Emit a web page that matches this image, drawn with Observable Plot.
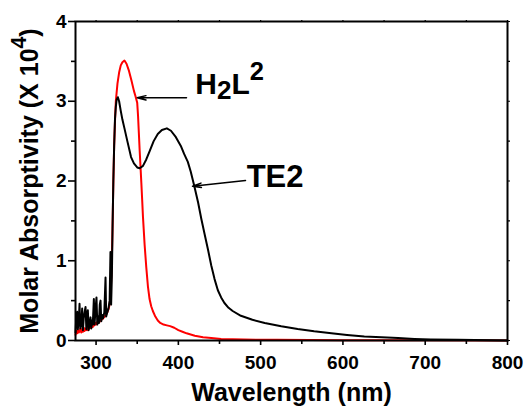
<!DOCTYPE html>
<html><head><meta charset="utf-8">
<script src="https://cdn.jsdelivr.net/npm/d3@7"></script>
<script src="https://cdn.jsdelivr.net/npm/@observablehq/plot@0.6"></script>
<style>
body{margin:0;background:#fff}
svg{font-family:"Liberation Sans",Arial,sans-serif;font-weight:bold}
</style>
</head><body><div id="chart"></div>
<script>
// TE2 (black)
const te2Wavelength = [275,276,277,277.8,279,279.9,280.8,282,283.1,284,285,286,287.2,288.2,289,290,291,292,293.2,294.2,295,296,297.3,298.2,299,300.5,301.5,302.5,303.5,304.5,305.4,306.3,307.5,308.5,310,311.5,312.3,313.5,315,316.5,317.5,318.3,319.2,320,321,322,323,324,325,326.5,328,330,332,334.5,338,342.5,346,350,353,357,361,365,370,375,380,386,391,397,403,407,411.5,415,419.5,424,428,432,436,440,444,448,452,456,461,466,476,490,505,525,545,565,586,605,626,647,667,687,707,740,780,800];
const te2Absorptivity = [0.10,0.30,0.36,0.14,0.25,0.46,0.15,0.20,0.40,0.13,0.28,0.35,0.42,0.14,0.30,0.38,0.13,0.20,0.29,0.15,0.25,0.20,0.52,0.20,0.35,0.54,0.20,0.30,0.22,0.45,0.50,0.24,0.32,0.28,0.35,0.79,0.30,0.35,0.40,0.50,1.11,0.45,0.80,1.40,2.00,2.45,2.78,2.93,3.02,3.05,3.00,2.88,2.77,2.66,2.50,2.30,2.22,2.17,2.16,2.19,2.27,2.37,2.50,2.59,2.64,2.66,2.63,2.55,2.44,2.34,2.24,2.12,1.93,1.73,1.52,1.33,1.14,0.94,0.77,0.63,0.54,0.47,0.41,0.37,0.31,0.26,0.22,0.18,0.145,0.115,0.09,0.07,0.05,0.04,0.03,0.02,0.013,0.008,0.003,0.0];
// H2L2 (red)
const h2l2Wavelength = [275,276,277,278,279,280,281,282,283,284,285,286,287,288,289,290,291,292,293,294,295,296,297,298,299,300,301,302,303,304,305,306,307,308,309,310,311,312,313,314,315,316,317,318,319,320,321,322,323,324,326,328,330,332,334.5,337,340,343,346,348,350,351,352,353,354,355,356,357,359,361,363,365,367,369,372,375,378,382,386,390,395,400,405,410,420,430,440,452,480,520,600,700,800];
const h2l2Absorptivity = [0.07,0.12,0.09,0.13,0.10,0.12,0.15,0.10,0.14,0.11,0.16,0.12,0.15,0.13,0.16,0.13,0.17,0.15,0.18,0.16,0.19,0.17,0.21,0.19,0.22,0.20,0.23,0.22,0.24,0.23,0.25,0.25,0.27,0.27,0.29,0.29,0.31,0.32,0.34,0.36,0.39,0.43,0.50,0.65,0.95,1.40,2.00,2.45,2.75,3.00,3.22,3.36,3.45,3.49,3.51,3.47,3.38,3.26,3.13,3.06,2.98,2.82,2.60,2.38,2.18,1.98,1.77,1.55,1.20,0.92,0.68,0.52,0.43,0.37,0.30,0.25,0.22,0.20,0.19,0.18,0.16,0.13,0.11,0.09,0.06,0.04,0.03,0.02,0.012,0.008,0.004,0.002,0.0];

const xMajorTicks = [300,400,500,600,700,800];
const xMinorTicks = [350,450,550,650,750];
const yMajorTicks = [0,1,2,3,4];
const yMinorTicks = [0.5,1.5,2.5,3.5];

const xTitle = "Wavelength (nm)";
const yTitle = "Molar Absorptivity (X 10^4)";
const seriesLabels = ["H_2L^2","TE2"];
const labelWavelength = [420.5, 483];
const labelValue = [3.093, 1.922];
const arrowFromWavelength = [409.9, 481.6];
const arrowFromValue = [3.043, 2.006];
const arrowToWavelength = [350, 417.2];
const arrowToValue = [3.043, 1.935];

const te2 = te2Wavelength.map((x,i)=>({x, y: te2Absorptivity[i]}));
const h2l2 = h2l2Wavelength.map((x,i)=>({x, y: h2l2Absorptivity[i]}));
const labels = seriesLabels.map((t,i)=>({t, x: labelWavelength[i], y: labelValue[i]}));
const arrows = arrowFromWavelength.map((x1,i)=>({x1, y1: arrowFromValue[i], x2: arrowToWavelength[i], y2: arrowToValue[i]}));

const chart = Plot.plot({
  width: 526, height: 407,
  marginLeft: 75, marginRight: 19, marginTop: 21, marginBottom: 67,
  style: {background: "#fff", fontFamily: '"Liberation Sans", Arial, sans-serif', fontWeight: "bold", overflow: "visible", color: "#000"},
  x: {domain: [275, 800]},
  y: {domain: [0, 4]},
  marks: [
    Plot.line(h2l2, {x: "x", y: "y", stroke: "#ff0000", strokeWidth: 2}),
    Plot.line(te2, {x: "x", y: "y", stroke: "#000", strokeWidth: 2}),
    Plot.frame({stroke: "#000", strokeWidth: 2}),
    Plot.axisX({ticks: xMajorTicks, tickSize: 5, tickPadding: 10, strokeWidth: 1.6, fontSize: 19, fontWeight: "bold", label: null, tickFormat: d => String(d)}),
    Plot.axisX({ticks: xMinorTicks, tickSize: 4, strokeWidth: 1.6, fill: "none", label: null}),
    Plot.axisX({anchor: "top", ticks: xMajorTicks.concat(xMinorTicks), tickSize: 2, strokeWidth: 1.2, fill: "none", label: null}),
    Plot.axisY({ticks: yMajorTicks, tickSize: 7, tickPadding: 2, strokeWidth: 1.6, fontSize: 19, fontWeight: "bold", label: null, tickFormat: d => String(d)}),
    Plot.axisY({ticks: yMinorTicks, tickSize: 4, strokeWidth: 1.6, fill: "none", label: null}),
    Plot.axisY({anchor: "right", ticks: yMajorTicks.concat(yMinorTicks), tickSize: 2, strokeWidth: 1.2, fill: "none", label: null}),
    Plot.arrow(arrows, {x1: "x1", y1: "y1", x2: "x2", y2: "y2", stroke: "#000", strokeWidth: 1.5, headLength: 9, headAngle: 28}),
    Plot.text(labels.slice(0,1), {x: "x", y: "y", text: "t", textAnchor: "start", lineAnchor: "bottom", fontSize: 30, fontWeight: "bold", fill: "#000"}),
    Plot.text(labels.slice(1), {x: "x", y: "y", text: "t", textAnchor: "start", lineAnchor: "bottom", fontSize: 31, fontWeight: "bold", fill: "#000"}),
    Plot.text([xTitle], {text: d => d, frameAnchor: "bottom", dy: 60, textAnchor: "middle", lineAnchor: "bottom", fontSize: 25, fontWeight: "bold", fill: "#000"}),
    Plot.text([yTitle], {text: d => d, frameAnchor: "left", dx: -38, rotate: -90, textAnchor: "middle", lineAnchor: "bottom", fontSize: 25, fontWeight: "bold", fill: "#000"})
  ]
});
document.getElementById("chart").appendChild(chart);

// turn _x / ^x markers into subscript / superscript tspans
d3.select(chart).selectAll("text").each(function() {
  const el = this;
  const s = el.textContent;
  if (!/[_^]/.test(s)) return;
  const size = parseFloat(getComputedStyle(el).fontSize);
  const parts = [];
  let buf = "";
  for (let i = 0; i < s.length; i++) {
    const c = s[i];
    if ((c === "_" || c === "^") && i + 1 < s.length) {
      if (buf) parts.push({t: buf, k: 0});
      buf = "";
      parts.push({t: s[i+1], k: c === "_" ? 1 : -1});
      i++;
    } else buf += c;
  }
  if (buf) parts.push({t: buf, k: 0});
  while (el.firstChild) el.removeChild(el.firstChild);
  let cur = 0;
  for (const p of parts) {
    const off = p.k === 1 ? 0.17 * size : p.k === -1 ? -0.45 * size : 0;
    const ts = document.createElementNS("http://www.w3.org/2000/svg", "tspan");
    ts.textContent = p.t;
    if (off !== cur) ts.setAttribute("dy", off - cur);
    if (p.k !== 0) ts.setAttribute("font-size", (p.k === 1 ? 0.87 : 0.85) * size);
    cur = off;
    el.appendChild(ts);
  }
});
</script>
</body></html>
